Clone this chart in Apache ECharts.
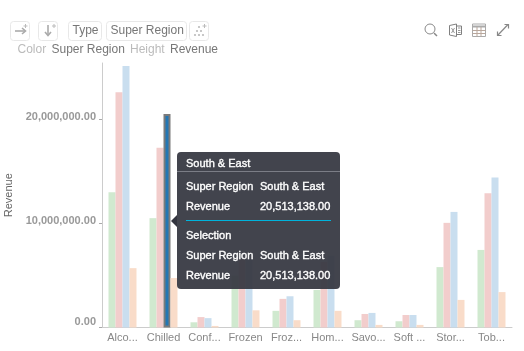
<!DOCTYPE html>
<html>
<head>
<meta charset="utf-8">
<style>
html,body{margin:0;padding:0;background:#fff;overflow:hidden}
#chart{width:524px;height:351px}
.tip-head{height:19px;line-height:22px;padding:0 9px;border-bottom:1px solid #7b7d86}
.tip-row{height:20px;line-height:20px;padding:0 9px;white-space:nowrap}
.tip-row b{display:inline-block;width:74px;font-weight:normal}
.tip-sep{height:1px;background:#00b4dc;margin:3px 9px 4px 9px}
.tip-arrow{position:absolute;left:-6px;top:63px;width:0;height:0;border:6px solid transparent;border-left:0;border-right-color:#33353f}
</style>
</head>
<body>
<div id="chart"></div>
<script src="https://cdn.jsdelivr.net/npm/echarts@6/dist/echarts.min.js"></script>
<script>
var FONT = '"Liberation Sans", Arial, sans-serif';

var categories = ['Alco...', 'Chilled', 'Conf...', 'Frozen', 'Froz...', 'Hom...', 'Savo...', 'Soft ...', 'Stor...', 'Tob...'];
var regionNames = ['Region A', 'Region B', 'South & East', 'Region D'];
var regionA = [13000000, 10500000, 500000, 5000000, 1600000, 3600000, 700000, 600000, 5800000, 7450000];
var regionB = [22600000, 17250000, 1000000, 6600000, 2750000, 6300000, 1300000, 1200000, 10050000, 12900000];
var regionC = [25100000, 20513138, 900000, 6600000, 3000000, 6900000, 1400000, 1200000, 11100000, 14400000];
var regionD = [5700000, 4750000, 150000, 1650000, 700000, 1600000, 250000, 250000, 2650000, 3400000];
var yTicks = [0, 10000000, 20000000];

var regionColors = ['#d0e9cf', '#f2cdcc', '#c9deef', '#f9dcc9'];
var selectedIndex = 1;

function moneyText(v) {
	return v.toLocaleString('en-US', { minimumFractionDigits: 2, maximumFractionDigits: 2 });
}

function tipHtml() {
	var name = regionNames[2];
	var rev = moneyText(regionC[selectedIndex]);
	return '<div class="tip-arrow"></div>' +
		'<div class="tip-head">' + name + '</div>' +
		'<div class="tip-row" style="margin-top:4px"><b>Super Region</b>' + name + '</div>' +
		'<div class="tip-row"><b>Revenue</b>' + rev + '</div>' +
		'<div class="tip-sep" style="margin-top:4px"></div>' +
		'<div class="tip-row">Selection</div>' +
		'<div class="tip-row"><b>Super Region</b>' + name + '</div>' +
		'<div class="tip-row"><b>Revenue</b>' + rev + '</div>';
}

function barSeries(i, values) {
	return {
		name: regionNames[i],
		type: 'bar',
		barWidth: 7,
		barGap: 0,
		silent: true,
		itemStyle: { color: regionColors[i] },
		data: values.map(function (v, k) {
			if (i === 2 && k === selectedIndex) {
				return { value: v, itemStyle: { color: '#2377b4', borderColor: '#7b7b7b', borderWidth: 2 } };
			}
			return v;
		})
	};
}

// toolbar frames, the icons are plain strokes
function box(x, w) {
	return { type: 'rect', shape: { x: x + 0.5, y: 21.5, width: w, height: 19, r: 3 }, style: { fill: '#fff', stroke: '#e8e8e8', lineWidth: 1 } };
}
function label(x, y, str, color) {
	return { type: 'text', x: x, y: y, style: { text: str, fill: color, font: '12px ' + FONT, verticalAlign: 'middle' } };
}
function stroke(pts, color, w) {
	return { type: 'polyline', shape: { points: pts }, style: { fill: 'none', stroke: color || '#8a8a8a', lineWidth: w || 1 } };
}
function dot(x, y) {
	return { type: 'circle', shape: { cx: x, cy: y, r: 1.1 }, style: { fill: '#bbb' } };
}
function plus(x, y) {
	return [stroke([[x, y - 2], [x, y + 2]], '#bbb'), stroke([[x - 2, y], [x + 2, y]], '#bbb')];
}

var toolbar = [
	box(10, 19), box(38, 19), box(68, 33), box(106, 80), box(189, 19),
	stroke([[15, 31], [25, 31]], '#aaa', 1.6),
	stroke([[22, 28], [25.5, 31], [22, 34]], '#aaa', 1.6),
	stroke([[48, 25], [48, 35]], '#aaa', 1.6),
	stroke([[45, 32], [48, 35.5], [51, 32]], '#aaa', 1.6),
	label(72.5, 31, 'Type', '#777'),
	label(110.5, 31, 'Super Region', '#777'),
	dot(199, 27), dot(197, 31), dot(201, 31), dot(195, 35), dot(199, 35), dot(203, 35),
	label(17.5, 50, 'Color', '#bbb'),
	label(51.5, 50, 'Super Region', '#777'),
	label(130, 50, 'Height', '#bbb'),
	label(170, 50, 'Revenue', '#777'),
	// search
	{ type: 'circle', shape: { cx: 430, cy: 29, r: 5 }, style: { fill: 'none', stroke: '#888', lineWidth: 1 } },
	stroke([[434, 33], [437, 36]], '#888', 1.5),
	// excel
	stroke([[449.5, 25.5], [456.5, 24], [456.5, 36.5], [449.5, 35], [449.5, 25.5]], '#808080'),
	stroke([[456.5, 26], [461.5, 26], [461.5, 34.5], [456.5, 34.5]], '#808080'),
	stroke([[458, 28], [460.5, 28]], '#999'),
	stroke([[458, 30.5], [460.5, 30.5]], '#999'),
	stroke([[458, 32.5], [460.5, 32.5]], '#999'),
	stroke([[451.5, 28], [454.5, 33]], '#999'),
	stroke([[454.5, 28], [451.5, 33]], '#999'),
	// table
	{ type: 'rect', shape: { x: 472.5, y: 24, width: 13, height: 12.5 }, style: { fill: 'none', stroke: '#aaa', lineWidth: 1 } },
	stroke([[472.5, 26.5], [485.5, 26.5]], '#aaa', 2),
	stroke([[472.5, 30.5], [485.5, 30.5]], '#b9a79c'),
	stroke([[472.5, 33.5], [485.5, 33.5]], '#b9a79c'),
	stroke([[477, 27], [477, 36.5]], '#b9a79c'),
	stroke([[481, 27], [481, 36.5]], '#b9a79c'),
	// expand
	stroke([[497.5, 35.5], [508, 24.5]], '#888', 1.2),
	stroke([[504.5, 24.5], [508.5, 24.5], [508.5, 28.5]], '#888', 1.2),
	stroke([[497.5, 31.5], [497.5, 35.5], [501.5, 35.5]], '#888', 1.2)
].concat(plus(25.5, 26), plus(54, 26), plus(204.5, 26));

var chart = echarts.init(document.getElementById('chart'), null, { renderer: 'canvas' });
chart.setOption({
	animation: false,
	textStyle: { fontFamily: FONT },
	grid: { left: 102, right: 12, top: 63, bottom: 23.5, containLabel: false, outerBoundsMode: 'none' },
	tooltip: {
		trigger: 'item',
		alwaysShowContent: true,
		transitionDuration: 0,
		padding: 0,
		borderWidth: 0,
		backgroundColor: 'rgba(54,56,66,0.94)',
		position: function () { return [177, 152]; },
		formatter: tipHtml,
		textStyle: { color: '#fff', fontSize: 11, fontFamily: FONT },
		extraCssText: 'width:163px;height:137px;box-shadow:none;border-radius:4px;font-weight:normal;-webkit-text-stroke:0.35px #fff;box-sizing:border-box;'
	},
	xAxis: {
		type: 'category',
		data: categories,
		axisLine: { lineStyle: { color: '#ccc', width: 1 } },
		axisTick: { show: false },
		axisLabel: { color: '#888', fontSize: 11, interval: 0, margin: 5 }
	},
	yAxis: {
		type: 'value',
		min: 0,
		max: 25400000,
		name: 'Revenue',
		nameLocation: 'middle',
		nameGap: 88,
		nameMoveOverlap: false,
		nameTextStyle: { color: '#666', fontSize: 11, padding: [12, 0, 0, 0] },
		splitLine: { show: false },
		axisLine: { show: true, lineStyle: { color: '#ccc', width: 1 } },
		axisTick: { show: true, length: 3, lineStyle: { color: '#aaa' }, customValues: yTicks },
		axisLabel: {
			customValues: yTicks,
			color: '#999',
			fontSize: 11,
			fontWeight: 'bold',
			margin: 6,
			verticalAlignMinLabel: 'bottom',
			formatter: function (v) {
				return v === 0 ? moneyText(v) : '{up|' + moneyText(v) + '}';
			},
			rich: {
				up: { color: '#999', fontSize: 11, fontWeight: 'bold', fontFamily: FONT, padding: [0, 0, 4, 0] }
			}
		}
	},
	series: [barSeries(0, regionA), barSeries(1, regionB), barSeries(2, regionC), barSeries(3, regionD)],
	graphic: toolbar
});
chart.dispatchAction({ type: 'showTip', seriesIndex: 2, dataIndex: selectedIndex });
</script>
</body>
</html>
